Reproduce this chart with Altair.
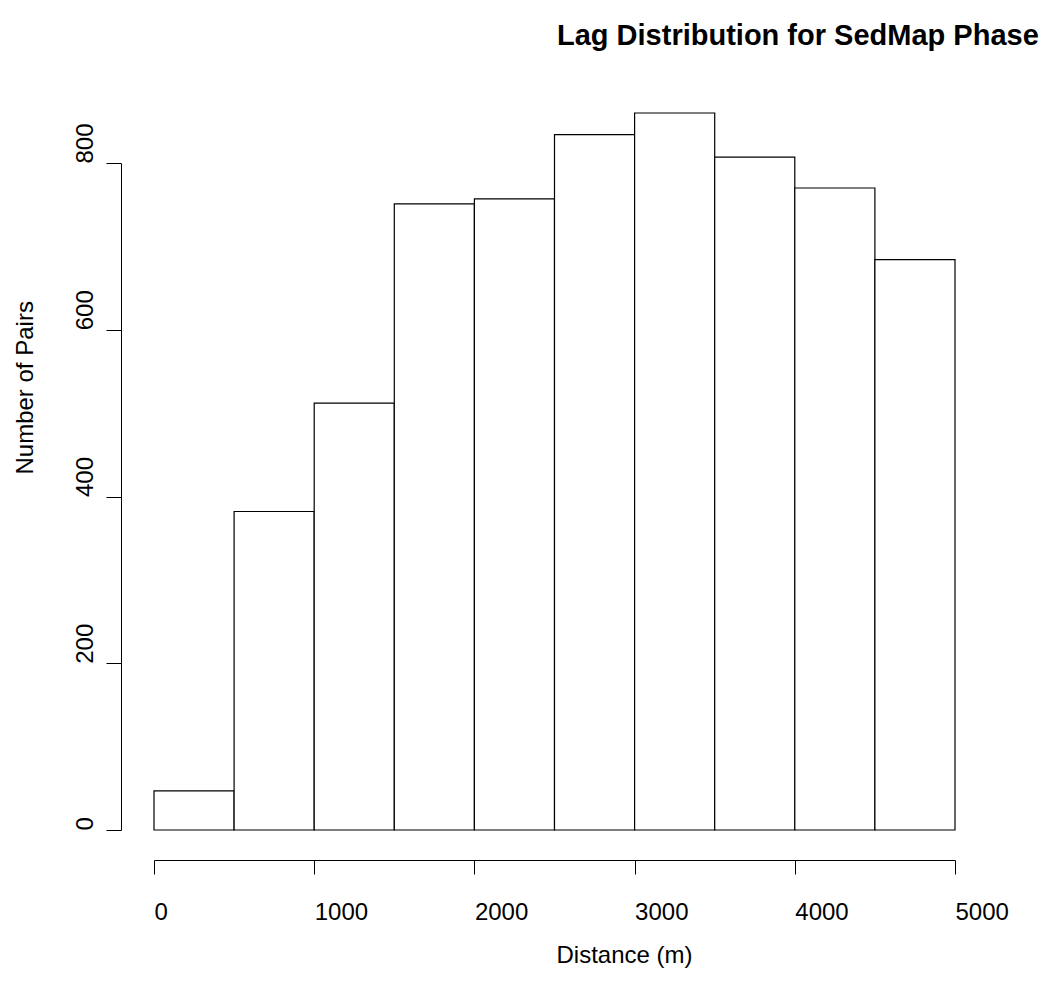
import altair as alt
import pandas as pd

# Histogram bins (distance in m) and counts
bin_start = [0, 500, 1000, 1500, 2000, 2500, 3000, 3500, 4000, 4500]
bin_end = [500, 1000, 1500, 2000, 2500, 3000, 3500, 4000, 4500, 5000]
counts = [47, 382, 512, 751, 757, 834, 860, 807, 770, 684]

x_ticks = [0, 1000, 2000, 3000, 4000, 5000]
y_ticks = [0, 200, 400, 600, 800]

title_text = ["Lag Distribution for SedMap Phase"]

df = pd.DataFrame({"start": bin_start, "end": bin_end, "count": counts})
tdf = pd.DataFrame({"t": title_text})

FONT = "Liberation Sans, Arial, Helvetica, sans-serif"
LBL = 24

bars = alt.Chart(df).mark_rect(fill="white", stroke="black", strokeWidth=1.2).encode(
    x=alt.X(
        "start:Q",
        scale=alt.Scale(domain=[0, 5000], nice=False, zero=False),
        axis=alt.Axis(
            values=x_ticks, title="Distance (m)", offset=30, tickSize=14,
            labelAlign="left", labelBaseline="alphabetic", labelPadding=45,
            labelFontSize=LBL, labelFont=FONT, labelColor="black",
            domainColor="black", tickColor="black", domainWidth=1, tickWidth=1,
            grid=False, format="d", labelFlush=False, labelOverlap=False,
            titleX=402, titleY=102, titleAlign="left", titleBaseline="alphabetic",
            titleFont=FONT, titleFontSize=LBL, titleFontWeight="normal", titleColor="black",
        ),
    ),
    x2="end:Q",
    y=alt.Y(
        "count:Q",
        scale=alt.Scale(domain=[0, 800], nice=False),
        axis=alt.Axis(
            values=y_ticks, title="Number of Pairs", offset=33, tickSize=15,
            labelAngle=270, labelAlign="left", labelBaseline="alphabetic", labelPadding=14,
            labelFontSize=LBL, labelFont=FONT, labelColor="black",
            domainColor="black", tickColor="black", domainWidth=1, tickWidth=1,
            grid=False, format="d", labelFlush=False, labelOverlap=False,
            titleAngle=270, titleX=-89, titleY=311, titleAlign="left", titleBaseline="alphabetic",
            titleFont=FONT, titleFontSize=LBL, titleFontWeight="normal", titleColor="black",
        ),
    ),
    y2=alt.datum(0),
)

title = alt.Chart(tdf).mark_text(
    align="left", baseline="alphabetic", font=FONT, fontSize=29, fontWeight="bold", color="black"
).encode(text="t:N", x=alt.value(403), y=alt.value(-118))

chart = alt.layer(bars, title).properties(
    width=801,
    height=667,
    autosize=alt.AutoSizeParams(type="none"),
    padding={"left": 146, "top": 155, "right": 96, "bottom": 140},
    background="white",
).configure_view(stroke=None)

chart.save("out.html", embed_options={"renderer": "svg", "actions": False})
